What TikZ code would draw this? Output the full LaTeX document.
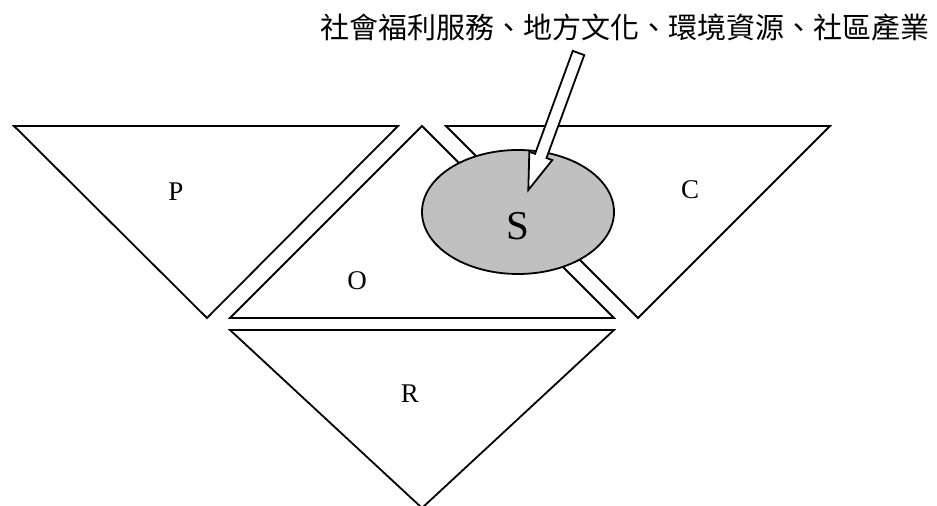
\documentclass[tikz,border=0pt]{standalone}
\usepackage{fontspec}
\setmainfont{Liberation Serif}
\newfontfamily\cjk{Noto Sans CJK TC}
\definecolor{spot}{RGB}{192, 192, 192}
\usetikzlibrary{calc, shapes.geometric}

\begin{document}
\begin{tikzpicture}[x=0.5pt, y=-0.5pt, line width=0.9pt,
    tri/.style={draw=black, fill=white, line join=miter},
    letter/.style={inner sep=0pt, font=\fontsize{13.5}{15}\selectfont},
]
\useasboundingbox (0,0) rectangle (937,506);
% the four triangles
\draw[tri] (14,126) -- (398,126) -- (207,318) -- cycle;
\draw[tri] (422,126) -- (614,318) -- (230,318) -- cycle;
\draw[tri] (446,126) -- (830,126) -- (638,318) -- cycle;
\draw[tri] (230,330) -- (614,330) -- (422,508) -- cycle;
\node[letter] (p) at (176,192) {P};
\node[letter] (o) at (357,281) {O};
\node[letter] (c) at (690,190) {C};
\node[letter] (r) at (410,394) {R};
% the shaded S in the middle
\node[ellipse, draw=black, fill=spot, minimum width=96pt, minimum height=62pt, inner sep=0pt] (svc) at (518,212) {};
\node[inner sep=0pt, font=\fontsize{20.5}{22}\selectfont] (s) at (518,226) {S};
% label with its block arrow
\node[inner sep=0pt, font=\cjk\fontsize{14.5}{16}\selectfont] (topics) at (625,28) {社會福利服務、地方文化、環境資源、社區產業};
\coordinate (tail) at (578.5,53);
\coordinate (tip) at (528.3,190);
\coordinate (hb) at ($(tip)!18.15pt!(tail)$);
\draw[fill=white, line join=miter]
    ($(tail)!3.05pt!90:(tip)$) -- ($(hb)!3.05pt!-90:(tail)$) -- ($(hb)!6.1pt!-90:(tail)$)
    -- (tip) -- ($(hb)!6.1pt!90:(tail)$) -- ($(hb)!3.05pt!90:(tail)$)
    -- ($(tail)!3.05pt!-90:(tip)$) -- cycle;
\end{tikzpicture}
\end{document}
